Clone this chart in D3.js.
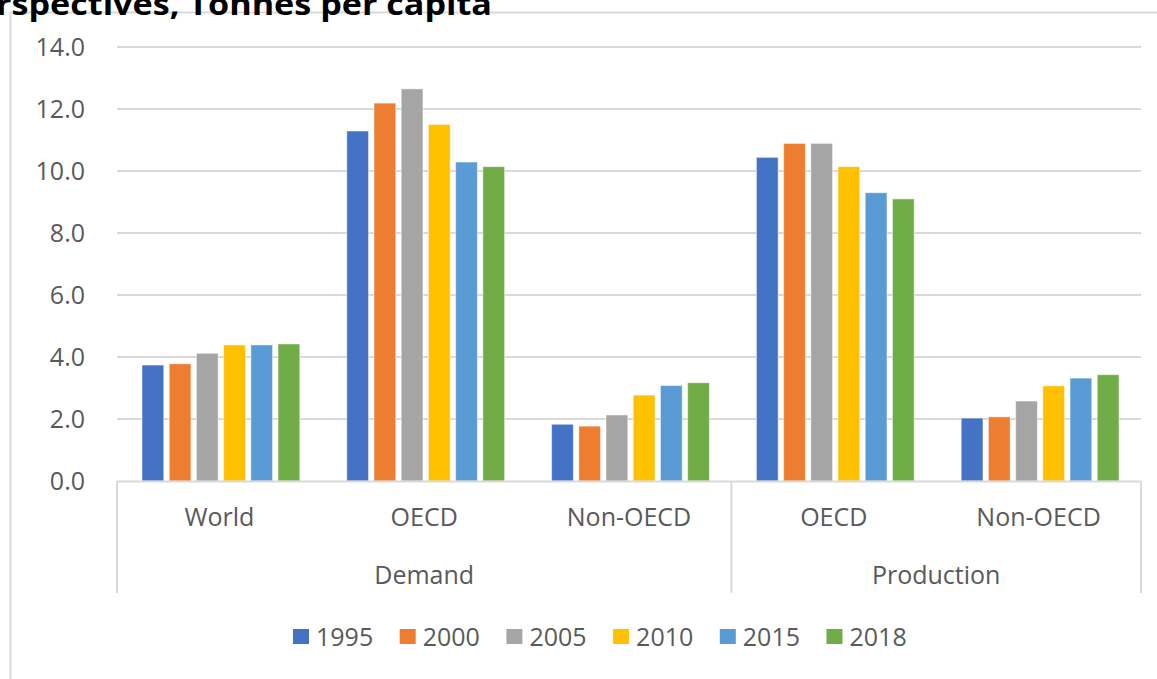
<!DOCTYPE html>
<html>
<head>
<meta charset="utf-8">
<script src="https://cdn.jsdelivr.net/npm/d3@7"></script>
<style>
  html, body { margin: 0; padding: 0; background: #fff; overflow: hidden; }
  svg { display: block; }
  text { font-family: "Open Sans", sans-serif; }
</style>
</head>
<body>
<svg id="chart" width="1157" height="679"></svg>
<script>
// ---- data ----
const categories = ["World", "OECD", "Non-OECD", "OECD", "Non-OECD"];
const groups = ["Demand", "Demand", "Demand", "Production", "Production"];
const groupLabels = ["Demand", "Production"];
const years = ["1995", "2000", "2005", "2010", "2015", "2018"];
const colors = ["#4472C4", "#ED7D31", "#A5A5A5", "#FFC000", "#5B9BD5", "#70AD47"];
const v1995 = [3.74, 11.29, 1.83, 10.44, 2.03];
const v2000 = [3.78, 12.19, 1.77, 10.89, 2.07];
const v2005 = [4.12, 12.65, 2.13, 10.89, 2.58];
const v2010 = [4.39, 11.50, 2.77, 10.14, 3.07];
const v2015 = [4.39, 10.29, 3.08, 9.30, 3.32];
const v2018 = [4.42, 10.14, 3.17, 9.10, 3.43];
const yTicks = [0, 2, 4, 6, 8, 10, 12, 14];
const titleText = "rspectives, Tonnes per capita";

const series = [v1995, v2000, v2005, v2010, v2015, v2018];

(function () {
// ---- layout ----
const svg = d3.select("#chart");
const pLeft = 117, pRight = 1141, pTop = 47, pBottom = 481;
const gridColor = "#d9d9d9", textColor = "#595959";

// chart frame (partially visible)
svg.append("line").attr("x1", 10).attr("x2", 1157).attr("y1", 12.5).attr("y2", 12.5)
  .attr("stroke", gridColor).attr("stroke-width", 2);
svg.append("line").attr("x1", 10.5).attr("x2", 10.5).attr("y1", 12).attr("y2", 679)
  .attr("stroke", gridColor).attr("stroke-width", 2);

// title (cut off at top)
svg.append("text").attr("x", -4).attr("y", 15)
  .attr("font-size", 30).attr("font-weight", 700).attr("fill", "#000")
  .attr("textLength", 496).attr("lengthAdjust", "spacingAndGlyphs")
  .text(titleText);

const idx = d3.range(categories.length);
const x0 = d3.scaleBand().domain(idx).range([pLeft, pRight]).paddingInner(0).paddingOuter(0);
const x1 = d3.scaleBand().domain(years).range([25, x0.bandwidth() - 22]).paddingInner(0.2).paddingOuter(0);
const y = d3.scaleLinear().domain([0, 14]).range([pBottom, pTop]);

// gridlines
svg.append("g").selectAll("line").data(yTicks.filter(d => d > 0)).join("line")
  .attr("x1", pLeft).attr("x2", pRight)
  .attr("y1", d => y(d)).attr("y2", d => y(d))
  .attr("stroke", gridColor).attr("stroke-width", 2);

// y labels
const yAxis = d3.axisLeft(y).tickValues(yTicks).tickFormat(d3.format(".1f")).tickSize(0).tickPadding(0);
const gy = svg.append("g").attr("transform", `translate(85,0)`).call(yAxis);
gy.select(".domain").remove();
gy.selectAll("text").attr("font-size", 25).attr("fill", textColor)
  .attr("font-family", "'Open Sans', sans-serif");

// bars
years.forEach((yr, si) => {
  svg.append("g").selectAll("rect").data(series[si]).join("rect")
    .attr("x", (d, i) => x0(i) + x1(yr))
    .attr("y", d => y(d))
    .attr("width", x1.bandwidth())
    .attr("height", d => y(0) - y(d))
    .attr("fill", colors[si])
    .attr("stroke", "#ffffff").attr("stroke-opacity", 0.5).attr("stroke-width", 1);
});

// category axis line
svg.append("line").attr("x1", pLeft).attr("x2", pRight).attr("y1", pBottom + 0.5).attr("y2", pBottom + 0.5)
  .attr("stroke", gridColor).attr("stroke-width", 2);

// separators
const sepX = [pLeft, x0(3), pRight];
svg.append("g").selectAll("line").data(sepX).join("line")
  .attr("x1", d => d).attr("x2", d => d).attr("y1", pBottom).attr("y2", 593)
  .attr("stroke", gridColor).attr("stroke-width", 2);

// category labels
svg.append("g").selectAll("text").data(categories).join("text")
  .attr("x", (d, i) => x0(i) + x0.bandwidth() / 2)
  .attr("y", 517).attr("dy", "0.35em")
  .attr("text-anchor", "middle").attr("font-size", 25).attr("fill", textColor)
  .text(d => d);

// group labels
const groupSpans = groupLabels.map(g => {
  const ids = idx.filter(i => groups[i] === g);
  return { g, x: (x0(ids[0]) + x0(ids[ids.length - 1]) + x0.bandwidth()) / 2 };
});
svg.append("g").selectAll("text").data(groupSpans).join("text")
  .attr("x", d => d.x).attr("y", 575).attr("dy", "0.35em")
  .attr("text-anchor", "middle").attr("font-size", 25).attr("fill", textColor)
  .text(d => d.g);

// legend
const legX = d3.scalePoint().domain(years).range([293, 826.5]);
const leg = svg.append("g").selectAll("g").data(years).join("g")
  .attr("transform", d => `translate(${legX(d)},637)`);
leg.append("rect").attr("x", 0).attr("y", -8).attr("width", 16).attr("height", 15)
  .attr("fill", (d, i) => colors[i]);
leg.append("text").attr("x", 23).attr("y", 0).attr("dy", "0.35em")
  .attr("font-size", 25).attr("fill", textColor).text(d => d);
})();
</script>
</body>
</html>
